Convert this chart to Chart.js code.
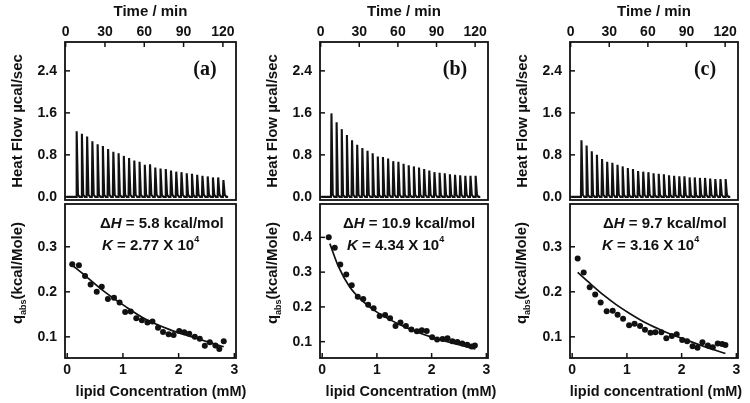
<!DOCTYPE html>
<html>
<head>
<meta charset="utf-8">
<script src="https://cdn.jsdelivr.net/npm/chart.js@4.4.1/dist/chart.umd.min.js"></script>
<style>
  html, body { margin: 0; padding: 0; background: #fff; }
  body { width: 750px; height: 403px; position: relative; overflow: hidden; }
  canvas { position: absolute; }
</style>
</head>
<body>
<canvas id="upA" width="245" height="203" style="left:5px;top:0px"></canvas>
<canvas id="loA" width="245" height="203" style="left:5px;top:200px"></canvas>
<canvas id="upB" width="242" height="203" style="left:260px;top:0px"></canvas>
<canvas id="loB" width="242" height="203" style="left:260px;top:200px"></canvas>
<canvas id="upC" width="242" height="203" style="left:510px;top:0px"></canvas>
<canvas id="loC" width="242" height="203" style="left:510px;top:200px"></canvas>
<script>
const sans = "'Liberation Sans', Arial, sans-serif";
const serif = "'Liberation Serif', 'Times New Roman', serif";
const ink = '#111';

// ---- data ----
// injection times (min), same protocol for the three runs
const injectionTimes = [8, 12, 16, 20, 24, 28, 32, 36, 40, 44, 48, 52, 56, 60, 64, 68, 72, 76, 80, 84, 88, 92, 96, 100, 104, 108, 112, 116, 120];

// peak heights of the heat flow spikes (ucal/sec)
const peaksA = [1.25, 1.20, 1.15, 1.06, 1.00, 0.97, 0.91, 0.86, 0.83, 0.78, 0.74, 0.69, 0.67, 0.61, 0.62, 0.56, 0.54, 0.53, 0.50, 0.48, 0.47, 0.45, 0.44, 0.42, 0.40, 0.39, 0.37, 0.37, 0.32];
const peaksB = [1.59, 1.42, 1.29, 1.18, 1.08, 0.99, 0.93, 0.88, 0.83, 0.77, 0.76, 0.73, 0.68, 0.67, 0.63, 0.60, 0.58, 0.56, 0.53, 0.50, 0.47, 0.46, 0.45, 0.43, 0.42, 0.41, 0.40, 0.40, 0.40];
const peaksC = [1.08, 0.98, 0.87, 0.80, 0.72, 0.67, 0.65, 0.61, 0.58, 0.55, 0.53, 0.49, 0.48, 0.47, 0.45, 0.44, 0.43, 0.41, 0.40, 0.39, 0.39, 0.37, 0.37, 0.36, 0.36, 0.35, 0.34, 0.34, 0.34];

// integrated heats vs lipid concentration
const concA = [0.09, 0.21, 0.32, 0.42, 0.53, 0.62, 0.73, 0.84, 0.94, 1.04, 1.14, 1.24, 1.34, 1.44, 1.53, 1.63, 1.72, 1.82, 1.91, 2.01, 2.10, 2.19, 2.29, 2.38, 2.47, 2.56, 2.66, 2.73, 2.81];
const qA = [0.261, 0.259, 0.235, 0.216, 0.200, 0.211, 0.184, 0.187, 0.176, 0.155, 0.156, 0.141, 0.137, 0.132, 0.134, 0.120, 0.111, 0.106, 0.104, 0.113, 0.110, 0.107, 0.100, 0.096, 0.080, 0.088, 0.081, 0.073, 0.090];
const concB = [0.12, 0.23, 0.33, 0.44, 0.54, 0.65, 0.75, 0.84, 0.94, 1.05, 1.15, 1.24, 1.34, 1.43, 1.53, 1.63, 1.73, 1.82, 1.91, 2.01, 2.10, 2.20, 2.29, 2.38, 2.47, 2.56, 2.65, 2.73, 2.79];
const qB = [0.400, 0.370, 0.322, 0.293, 0.262, 0.229, 0.223, 0.206, 0.196, 0.174, 0.177, 0.167, 0.145, 0.155, 0.145, 0.135, 0.130, 0.133, 0.131, 0.113, 0.106, 0.108, 0.110, 0.101, 0.099, 0.095, 0.091, 0.086, 0.089];
const concC = [0.10, 0.21, 0.32, 0.42, 0.52, 0.63, 0.74, 0.83, 0.93, 1.04, 1.14, 1.24, 1.33, 1.43, 1.52, 1.63, 1.72, 1.82, 1.91, 2.01, 2.10, 2.20, 2.29, 2.38, 2.48, 2.57, 2.66, 2.74, 2.80];
const qC = [0.274, 0.243, 0.210, 0.194, 0.176, 0.157, 0.158, 0.149, 0.140, 0.126, 0.129, 0.124, 0.116, 0.109, 0.110, 0.110, 0.097, 0.102, 0.106, 0.093, 0.090, 0.079, 0.076, 0.088, 0.081, 0.077, 0.085, 0.084, 0.082];

// fitted curves, read at a few points along the line
const fitXA = [0.09, 0.32, 0.62, 1.05, 1.41, 1.84, 2.26, 2.62, 2.81];
const fitYA = [0.259, 0.236, 0.205, 0.167, 0.139, 0.116, 0.099, 0.085, 0.078];
const fitXB = [0.14, 0.30, 0.50, 0.75, 1.00, 1.50, 2.00, 2.50, 2.80];
const fitYB = [0.382, 0.315, 0.258, 0.215, 0.185, 0.143, 0.113, 0.091, 0.079];
const fitXC = [0.10, 0.33, 0.57, 0.81, 1.05, 1.36, 1.66, 2.02, 2.38, 2.80];
const fitYC = [0.243, 0.218, 0.193, 0.171, 0.152, 0.130, 0.113, 0.096, 0.080, 0.063];

// tick labels
const timeTicks = [0, 30, 60, 90, 120];
const heatTicks = [0, 0.8, 1.6, 2.4];
const concTicks = [0, 1, 2, 3];
const qTicksA = [0.1, 0.2, 0.3];
const qTicksB = [0.1, 0.2, 0.3, 0.4];
const qTicksC = [0.1, 0.2, 0.3];

// ---- helpers ----
// each injection: sharp rise to the peak, quick decay back to baseline
function heatTrace(times, peaks) {
  const pts = [{ x: 0.5, y: 0 }];
  times.forEach((t, i) => {
    pts.push({ x: t, y: 0 }, { x: t + 0.4, y: peaks[i] }, { x: t + 1.4, y: 0.04 }, { x: t + 2.6, y: 0 });
  });
  pts.push({ x: 124, y: 0 });
  return pts;
}

function pairs(xs, ys) {
  return xs.map((x, i) => ({ x: x, y: ys[i] }));
}

function fixedTicks(values) {
  return scale => { scale.ticks = values.map(v => ({ value: v })); };
}

// fixed axis size, and no extra room asked for the end labels
function fixSize(size) {
  return s => {
    if (s.isHorizontal()) s.height = size; else s.width = size;
    s.paddingTop = 0; s.paddingBottom = 0; s.paddingLeft = 0; s.paddingRight = 0;
  };
}

// box round the plot plus short ticks pointing inward
const framePlugin = {
  id: 'frame',
  afterDatasetsDraw(chart, args, opts) {
    const { ctx, chartArea: a } = chart;
    ctx.save();
    ctx.strokeStyle = ink;
    ctx.lineWidth = 1.8;
    ctx.strokeRect(a.left, a.top, a.right - a.left, a.bottom - a.top);
    ctx.lineWidth = 1.5;
    (opts.axes || []).forEach(id => {
      const s = chart.scales[id];
      s.ticks.forEach(t => {
        const p = s.getPixelForValue(t.value);
        ctx.beginPath();
        if (s.isHorizontal()) {
          const y0 = s.options.position === 'top' ? a.top : a.bottom;
          const dir = s.options.position === 'top' ? 1 : -1;
          ctx.moveTo(p, y0);
          ctx.lineTo(p, y0 + dir * 5);
        } else {
          ctx.moveTo(a.left, p);
          ctx.lineTo(a.left + 5, p);
        }
        ctx.stroke();
      });
    });
    ctx.restore();
  }
};

// text with italic / sub / superscript parts, placed relative to the chart area
function notesPlugin(notes) {
  return {
    id: 'notes',
    afterDraw(chart) {
      const { ctx, chartArea: a } = chart;
      notes.forEach(n => {
        const size = n.size || 15;
        const fam = n.family || sans;
        const fontFor = p => (p.italic ? 'italic ' : '') + 'bold ' + ((p.sub || p.sup) ? Math.round(size * 0.6) : size) + 'px ' + fam;
        ctx.save();
        ctx.fillStyle = ink;
        ctx.textBaseline = 'middle';
        ctx.textAlign = 'left';
        let total = 0;
        n.parts.forEach(p => { ctx.font = fontFor(p); total += ctx.measureText(p.t).width; });
        ctx.translate(a.left + n.dx, a.top + n.dy);
        if (n.rotate) ctx.rotate(-Math.PI / 2);
        let cx = n.align === 'center' ? -total / 2 : 0;
        n.parts.forEach(p => {
          ctx.font = fontFor(p);
          const dy = p.sub ? size * 0.35 : (p.sup ? -size * 0.4 : 0);
          ctx.fillText(p.t, cx, dy);
          cx += ctx.measureText(p.t).width;
        });
        ctx.restore();
      });
    }
  };
}

const tickFont = { family: sans, size: 14, weight: 'bold' };
const titleFont = { family: sans, size: 15, weight: 'bold' };

function makeUpper(id, peaks, tag, tagDx) {
  new Chart(document.getElementById(id), {
    type: 'scatter',
    data: {
      datasets: [{
        data: heatTrace(injectionTimes, peaks),
        showLine: true,
        borderColor: ink,
        borderWidth: 2.1,
        pointRadius: 0,
        xAxisID: 'xt',
        yAxisID: 'y'
      }]
    },
    options: {
      responsive: false,
      animation: false,
      events: [],
      layout: { padding: { left: 0, right: 14, top: 0, bottom: 3 } },
      plugins: {
        legend: { display: false },
        tooltip: { enabled: false },
        frame: { axes: ['xt', 'y'] }
      },
      scales: {
        xt: {
          type: 'linear',
          position: 'top',
          min: -0.5,
          max: 130,
          grid: { display: false, drawTicks: false },
          border: { display: false },
          afterBuildTicks: fixedTicks(timeTicks),
          ticks: { font: tickFont, color: ink, padding: 1, maxRotation: 0, callback: v => String(v) },
          title: { display: true, text: 'Time / min', font: titleFont, color: ink, padding: { top: 3, bottom: 0 } },
          afterFit: fixSize(42)
        },
        y: {
          type: 'linear',
          position: 'left',
          min: -0.06,
          max: 2.95,
          grid: { display: false, drawTicks: false },
          border: { display: false },
          afterBuildTicks: fixedTicks(heatTicks),
          ticks: { font: tickFont, color: ink, padding: 8, callback: v => v.toFixed(1) },
          title: { display: true, text: 'Heat Flow \u00b5cal/sec', font: titleFont, color: ink, padding: { top: 4, bottom: 0 } },
          afterFit: fixSize(60)
        }
      }
    },
    plugins: [framePlugin, notesPlugin([
      { dx: tagDx, dy: 28, align: 'center', size: 20, family: serif, parts: [{ t: tag }] }
    ])]
  });
}

function makeLower(id, conc, q, fitX, fitY, qTicks, yMax, notes) {
  new Chart(document.getElementById(id), {
    type: 'scatter',
    data: {
      datasets: [{
        data: pairs(conc, q),
        pointRadius: 3,
        pointBackgroundColor: ink,
        pointBorderWidth: 0
      }, {
        data: pairs(fitX, fitY),
        showLine: true,
        borderColor: ink,
        borderWidth: 1.7,
        pointRadius: 0,
        cubicInterpolationMode: 'monotone'
      }]
    },
    options: {
      responsive: false,
      animation: false,
      events: [],
      layout: { padding: { left: 0, right: 14, top: 3, bottom: 0 } },
      plugins: {
        legend: { display: false },
        tooltip: { enabled: false },
        frame: { axes: ['x', 'y'] }
      },
      scales: {
        x: {
          type: 'linear',
          position: 'bottom',
          min: -0.04,
          max: 3.03,
          grid: { display: false, drawTicks: false },
          border: { display: false },
          afterBuildTicks: fixedTicks(concTicks),
          ticks: { font: tickFont, color: ink, padding: 4, maxRotation: 0, callback: v => v.toFixed(0) },
          afterFit: fixSize(45)
        },
        y: {
          type: 'linear',
          position: 'left',
          min: 0.053,
          max: yMax,
          grid: { display: false, drawTicks: false },
          border: { display: false },
          afterBuildTicks: fixedTicks(qTicks),
          ticks: { font: tickFont, color: ink, padding: 8, callback: v => v.toFixed(1) },
          afterFit: fixSize(60)
        }
      }
    },
    plugins: [framePlugin, notesPlugin(notes)]
  });
}

function qLabel(dx) {
  return { dx: dx, dy: 69, align: 'center', rotate: true, parts: [{ t: 'q' }, { t: 'abs', sub: true }, { t: '(kcal/Mole)' }] };
}

makeUpper('upA', peaksA, '(a)', 140);
makeUpper('upB', peaksB, '(b)', 135);
makeUpper('upC', peaksC, '(c)', 135);

makeLower('loA', concA, qA, fitXA, fitYA, qTicksA, 0.395, [
  { dx: 35, dy: 20, parts: [{ t: '\u0394' }, { t: 'H', italic: true }, { t: ' = 5.8 kcal/mol' }] },
  { dx: 37, dy: 42, parts: [{ t: 'K', italic: true }, { t: ' = 2.77 X 10' }, { t: '4', sup: true }] },
  qLabel(-47),
  { dx: 96, dy: 188, align: 'center', size: 14.5, parts: [{ t: 'lipid Concentration (mM)' }] }
]);
makeLower('loB', concB, qB, fitXB, fitYB, qTicksB, 0.496, [
  { dx: 23, dy: 20, parts: [{ t: '\u0394' }, { t: 'H', italic: true }, { t: ' = 10.9 kcal/mol' }] },
  { dx: 27, dy: 42, parts: [{ t: 'K', italic: true }, { t: ' = 4.34 X 10' }, { t: '4', sup: true }] },
  qLabel(-47),
  { dx: 91, dy: 188, align: 'center', size: 14.5, parts: [{ t: 'lipid Concentration (mM)' }] }
]);
makeLower('loC', concC, qC, fitXC, fitYC, qTicksC, 0.395, [
  { dx: 33, dy: 20, parts: [{ t: '\u0394' }, { t: 'H', italic: true }, { t: ' = 9.7 kcal/mol' }] },
  { dx: 32, dy: 42, parts: [{ t: 'K', italic: true }, { t: ' = 3.16 X 10' }, { t: '4', sup: true }] },
  qLabel(-48),
  { dx: 86, dy: 188, align: 'center', size: 14.5, parts: [{ t: 'lipid concentrationl (mM)' }] }
]);
</script>
</body>
</html>
